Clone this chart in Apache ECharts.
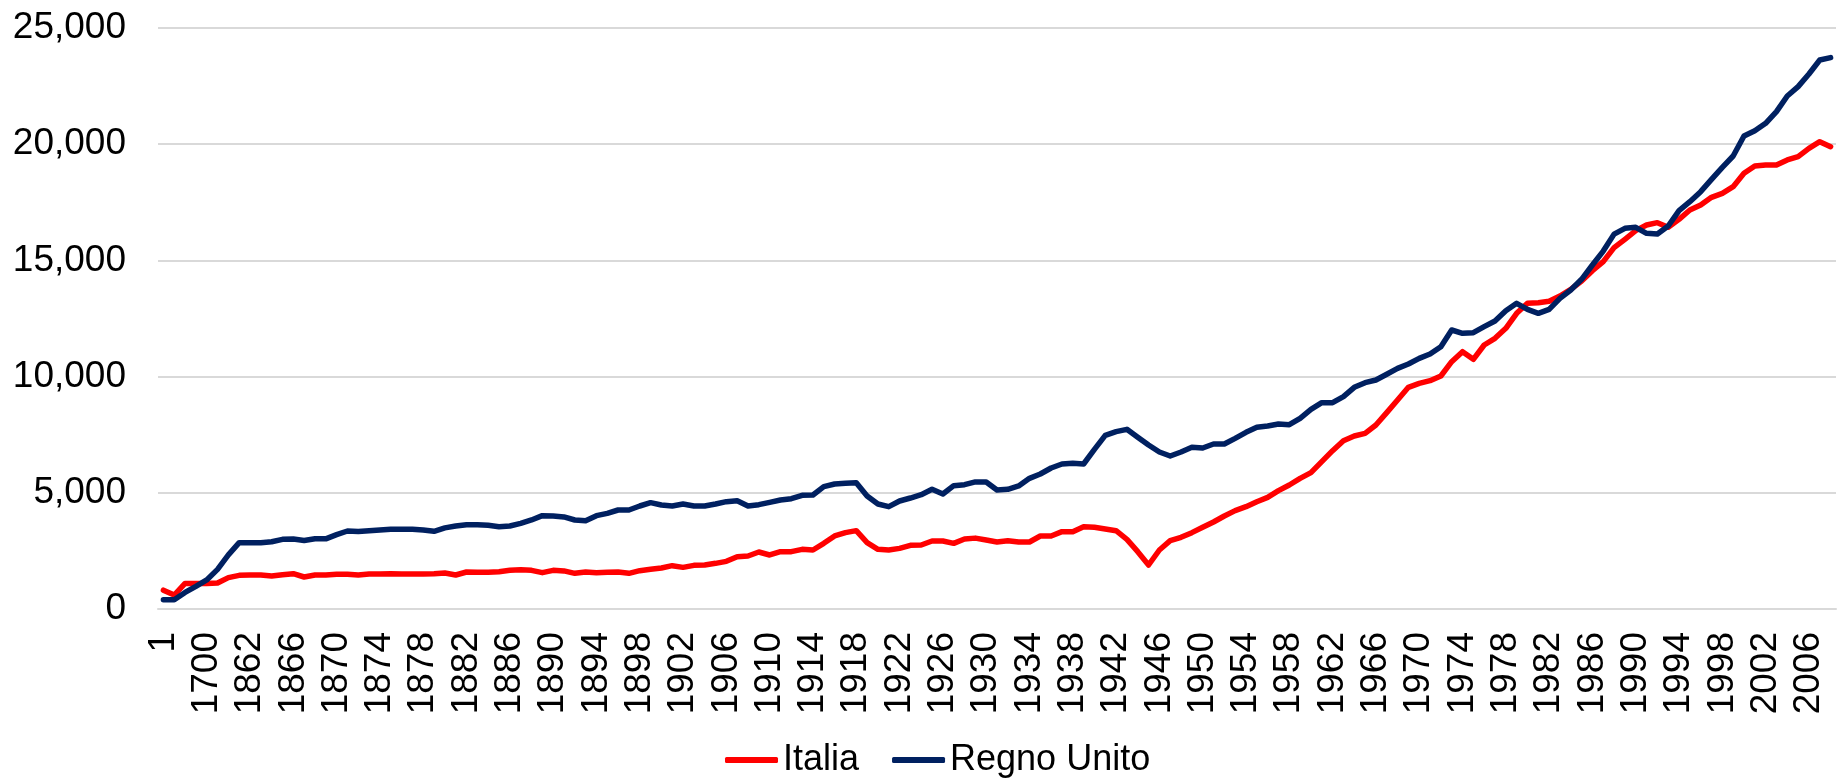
<!DOCTYPE html>
<html>
<head>
<meta charset="utf-8">
<title>Italia vs Regno Unito</title>
<script src="https://cdn.jsdelivr.net/npm/echarts@6/dist/echarts.min.js"></script>
<style>
  html, body { margin: 0; padding: 0; background: #ffffff; }
  #chart { width: 1847px; height: 780px; }
</style>
</head>
<body>
<div id="chart"></div>
<script>
// anni (asse delle categorie)
const years = ['1', '1000', '1500', '1600', '1700', '1820', '1850', '1861']
for (let y = 1862; y <= 2008; y++) years.push(String(y))

// PIL pro capite
const italia = [
  809, 600, 1100, 1100, 1100, 1117, 1350, 1447, 1463, 1463,
  1420, 1477, 1520, 1377, 1463, 1463, 1492, 1492, 1463, 1506,
  1506, 1520, 1506, 1506, 1506, 1520, 1550, 1463, 1592, 1578,
  1578, 1606, 1664, 1692, 1664, 1563, 1664, 1640, 1535, 1592,
  1563, 1578, 1592, 1535, 1649, 1707, 1764, 1864, 1792, 1879,
  1893, 1965, 2051, 2252, 2280, 2453, 2324, 2467, 2467, 2567,
  2539, 2826, 3142, 3285, 3371, 2854, 2567, 2539, 2610, 2740,
  2754, 2926, 2926, 2826, 3012, 3050, 2969, 2883, 2940, 2883,
  2883, 3141, 3141, 3328, 3328, 3543, 3514, 3443, 3371, 2998,
  2467, 1893, 2539, 2940, 3084, 3285, 3514, 3744, 4002, 4232,
  4403, 4618, 4805, 5092, 5336, 5622, 5866, 6340, 6813, 7243,
  7444, 7559, 7917, 8450, 8993, 9538, 9710, 9825, 10026, 10643,
  11073, 10743, 11360, 11647, 12077, 12722, 13153, 13182, 13239, 13469,
  13756, 14114, 14558, 14950, 15550, 15907, 16280, 16523, 16624, 16423,
  16768, 17169, 17384, 17714, 17887, 18173, 18746, 19062, 19105, 19105,
  19321, 19464, 19822, 20108, 19894
]
const regnoUnito = [
  400, 400, 714, 974, 1250, 1706, 2330, 2853, 2853, 2853,
  2896, 2998, 3010, 2950, 3020, 3020, 3198, 3357, 3330, 3370,
  3400, 3430, 3430, 3430, 3400, 3345, 3490, 3571, 3629, 3629,
  3600, 3543, 3571, 3686, 3830, 4016, 4000, 3960, 3830, 3801,
  4016, 4117, 4260, 4260, 4432, 4575, 4475, 4432, 4518, 4432,
  4432, 4518, 4618, 4661, 4432, 4490, 4590, 4690, 4747, 4891,
  4905, 5264, 5379, 5407, 5436, 4862, 4518, 4403, 4647, 4776,
  4919, 5149, 4948, 5307, 5350, 5470, 5465, 5121, 5150, 5293,
  5622, 5809, 6067, 6239, 6268, 6239, 6871, 7473, 7630, 7731,
  7387, 7057, 6756, 6584, 6756, 6957, 6928, 7100, 7100, 7344,
  7602, 7817, 7874, 7960, 7932, 8205, 8592, 8878, 8878, 9136,
  9538, 9739, 9854, 10100, 10356, 10542, 10786, 10973, 11288, 12005,
  11862, 11890, 12149, 12393, 12837, 13153, 12895, 12722, 12895, 13368,
  13727, 14186, 14802, 15400, 16130, 16380, 16423, 16165, 16137, 16480,
  17140, 17527, 17957, 18488, 19004, 19493, 20353, 20582, 20898, 21400,
  22075, 22476, 23021, 23623, 23724
]

const chart = echarts.init(document.getElementById('chart'))
chart.setOption({
  animation: false,
  textStyle: { fontFamily: 'Liberation Sans, Arial, sans-serif' },
  grid: { left: 158, right: 11, top: 28, bottom: 171 },
  legend: {
    top: 737,
    left: 720,
    icon: 'roundRect',
    itemWidth: 53,
    itemHeight: 6,
    itemGap: 33,
    textStyle: { fontSize: 36, color: '#000000' },
    data: ['Italia', 'Regno Unito']
  },
  xAxis: {
    type: 'category',
    boundaryGap: true,
    data: years,
    axisLine: { lineStyle: { color: '#D9D9D9', width: 2 } },
    axisTick: { show: false },
    axisLabel: { interval: 3, rotate: 90, margin: 23, fontSize: 37, color: '#000000' }
  },
  yAxis: {
    type: 'value',
    min: 0,
    max: 25000,
    interval: 5000,
    axisLine: { show: false },
    axisTick: { show: false },
    splitLine: { lineStyle: { color: '#D9D9D9', width: 2 } },
    axisLabel: {
      fontSize: 37,
      color: '#000000',
      margin: 32,
      formatter: v => v.toLocaleString('en-US')
    }
  },
  series: [
    {
      name: 'Italia',
      type: 'line',
      data: italia,
      symbol: 'none',
      color: '#FF0000',
      lineStyle: { width: 5.5, color: '#FF0000', cap: 'round', join: 'round' }
    },
    {
      name: 'Regno Unito',
      type: 'line',
      data: regnoUnito,
      symbol: 'none',
      color: '#002060',
      lineStyle: { width: 5.5, color: '#002060', cap: 'round', join: 'round' }
    }
  ]
})
</script>
</body>
</html>
